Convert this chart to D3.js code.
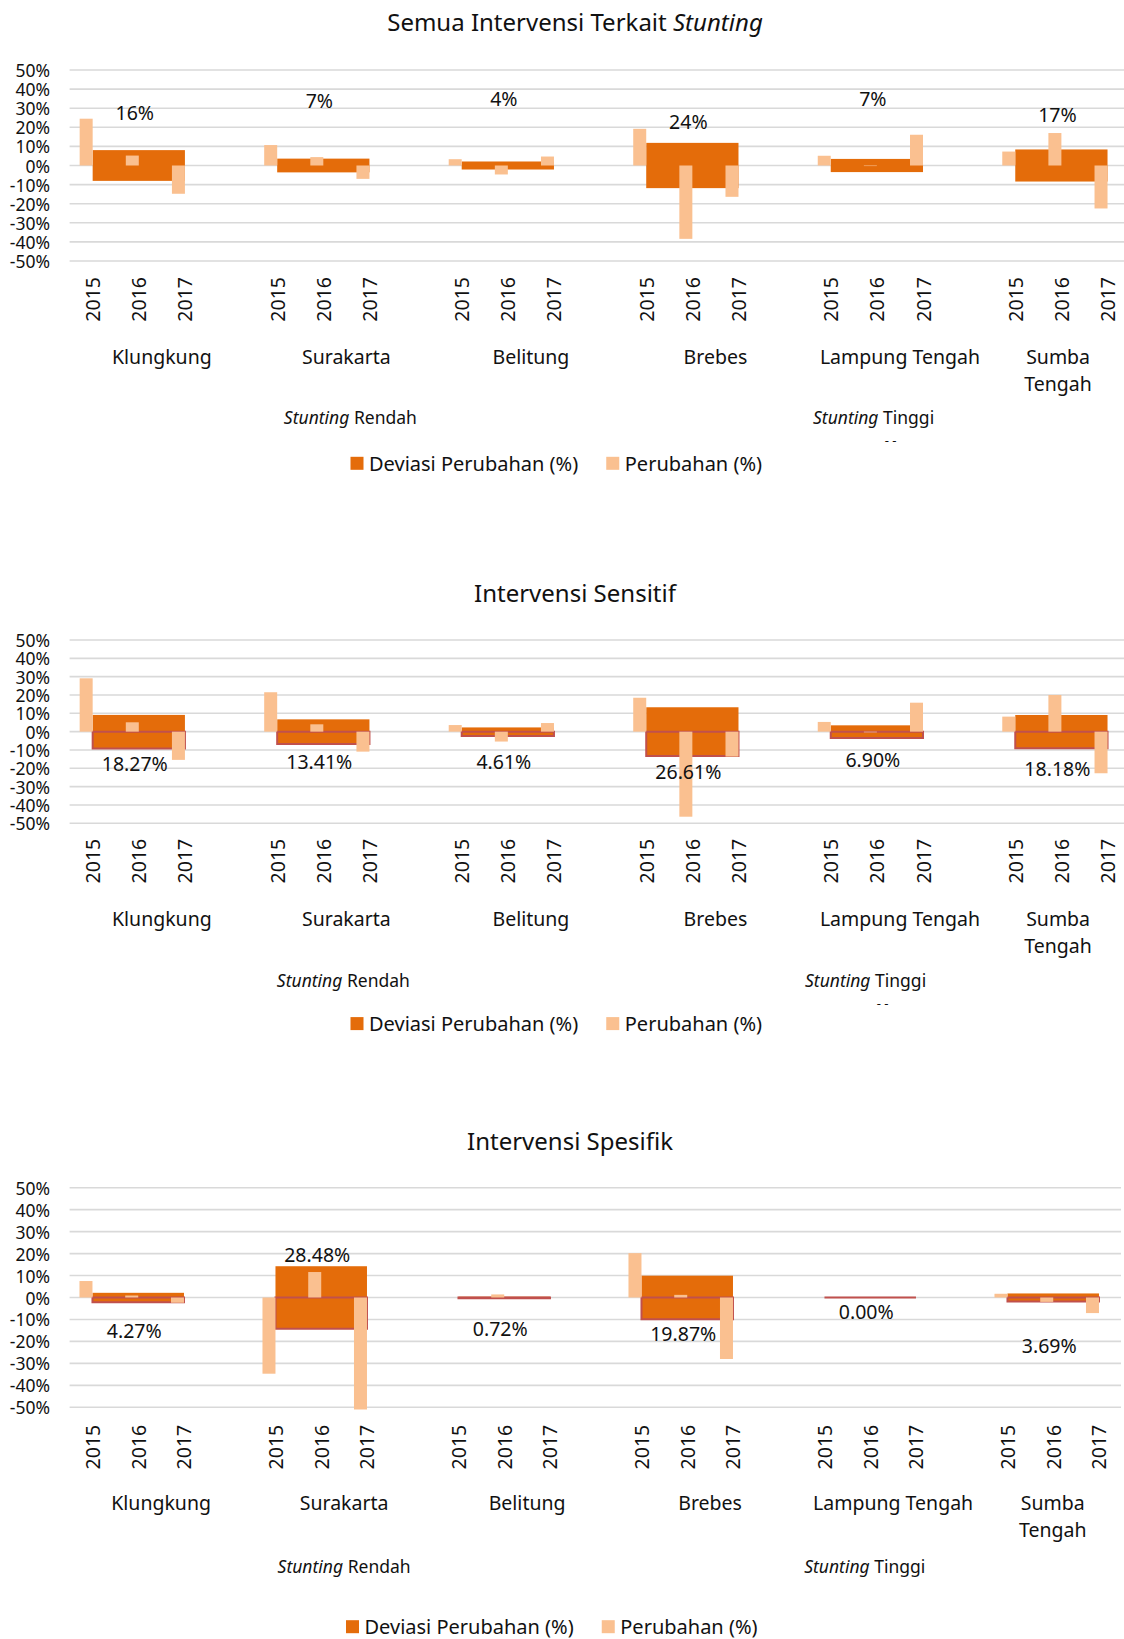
<!DOCTYPE html>
<html>
<head>
<meta charset="utf-8">
<script src="https://cdn.jsdelivr.net/npm/d3@7"></script>
<style>
body { margin: 0; background: #fff; }
svg text { font-family: "Segoe UI", "Noto Sans", sans-serif; fill: #111; }
</style>
</head>
<body>
<script>
// data (percent)
const years = ["2015", "2016", "2017"];
const cities = ["Klungkung", "Surakarta", "Belitung", "Brebes", "Lampung Tengah", "Sumba Tengah"];
const levels = ["Rendah", "Tinggi"];
const yTicks = [50, 40, 30, 20, 10, 0, -10, -20, -30, -40, -50];

const semuaPerubahan = [[24.5, 5.2, -14.8], [10.7, 4.4, -7.0], [3.3, -4.7, 4.7], [19.2, -38.4, -16.4], [5.1, -0.3, 16.1], [7.3, 17.0, -22.5]];
const semuaDeviasi = [16.1, 7.2, 4.2, 23.7, 6.9, 16.8];
const semuaLabelAt = [27.6, 34, 35, 23, 35, 26.5];

const sensitifPerubahan = [[29.1, 5.1, -15.4], [21.5, 4.0, -10.9], [3.6, -5.4, 4.7], [18.5, -46.4, -13.6], [5.3, -0.4, 15.8], [8.2, 20.0, -22.7]];
const sensitifDeviasi = [18.27, 13.41, 4.61, 26.61, 6.90, 18.18];
const sensitifLabelAt = [-17.2, -16.4, -16.4, -21.8, -15.1, -20];

const spesifikPerubahan = [[7.5, 0.9, -2.4], [-34.7, 11.6, -51.0], [0, 1.4, 0], [20.2, 1.2, -28.0], [0, 0, 0], [1.7, -2.0, -7.1]];
const spesifikDeviasi = [4.27, 28.48, 0.72, 19.87, 0.00, 3.69];
const spesifikLabelAt = [-15, 19.4, -13.9, -16.2, -6.4, -22];

const dark = "#E46C0A", pale = "#FAC090", border = "#C0504D", grid = "#D9D9D9";

const W = 1124, H = 1639;
const svg = d3.select("body").append("svg")
    .attr("width", W).attr("height", H)
    .attr("viewBox", "0 0 " + W + " " + H);
svg.append("rect").attr("width", W).attr("height", H).attr("fill", "#fff");

const charts = [
  {title: ["Semua Intervensi Terkait ", "Stunting"], perubahan: semuaPerubahan, deviasi: semuaDeviasi,
   labelAt: semuaLabelAt, fmt: d3.format(".0%"), top: 70, bottom: 261, slot: 46.13, right: 1124,
   titleX: 575, titleY: 21, yearGap: 16, groupY: 417, groupDx: [4, 0], legendX: 350.5, legendY: 463.3,
   outlined: false, dashes: true},
  {title: ["Intervensi Sensitif"], perubahan: sensitifPerubahan, deviasi: sensitifDeviasi,
   labelAt: sensitifLabelAt, fmt: d3.format(".2%"), top: 640, bottom: 823.3, slot: 46.13, right: 1124,
   titleX: 575, titleY: 592, yearGap: 15.5, groupY: 980, groupDx: [-3, -8], legendX: 350.5, legendY: 1023.6,
   outlined: true, dashes: true},
  {title: ["Intervensi Spesifik"], perubahan: spesifikPerubahan, deviasi: spesifikDeviasi,
   labelAt: spesifikLabelAt, fmt: d3.format(".2%"), top: 1187.7, bottom: 1407.3, slot: 45.75, right: 1121,
   titleX: 570, titleY: 1140, yearGap: 17.5, groupY: 1566, groupDx: [0, -5], legendX: 346, legendY: 1626.7,
   outlined: true, dashes: false}
];

const left = 69.6;
const paleW = 13;

charts.forEach(drawChart);

function drawChart(cfg) {
    const g = svg.append("g");

    // one slot per year, plus an empty slot after every city
    const slotKeys = cities.flatMap(c => years.map(y => c + "|" + y).concat([c + "|gap"]));
    const x = d3.scaleBand().domain(slotKeys).range([left, left + slotKeys.length * cfg.slot]);
    const cx = (c, y) => x(c + "|" + y) + x.bandwidth() / 2;
    const y = d3.scaleLinear().domain([-50, 50]).range([cfg.bottom, cfg.top]);

    // title
    const t = g.append("text")
        .attr("x", cfg.titleX).attr("y", cfg.titleY)
        .attr("text-anchor", "middle").attr("dominant-baseline", "central")
        .attr("font-size", 24);
    t.append("tspan").text(cfg.title[0]);
    if (cfg.title[1]) t.append("tspan").attr("font-style", "italic").text(cfg.title[1]);

    // grid + y axis
    g.selectAll(".grid").data(yTicks).join("line")
        .attr("x1", left).attr("x2", cfg.right)
        .attr("y1", d => y(d)).attr("y2", d => y(d))
        .attr("stroke", grid).attr("stroke-width", 1.6);
    g.selectAll(".ytick").data(yTicks).join("text")
        .attr("x", 50).attr("y", d => y(d))
        .attr("text-anchor", "end").attr("dominant-baseline", "central")
        .attr("font-size", 17.5)
        .text(d => d + "%");

    // deviation bars (wide, symmetric around 0)
    cities.forEach((c, i) => {
        const half = cfg.deviasi[i] / 2;
        const x0 = cx(c, "2015"), x1 = cx(c, "2017");
        if (!cfg.outlined) {
            g.append("rect")
                .attr("x", x0).attr("width", x1 - x0)
                .attr("y", y(half)).attr("height", y(-half) - y(half))
                .attr("fill", dark);
        } else {
            g.append("rect")
                .attr("x", x0).attr("width", x1 - x0)
                .attr("y", y(half)).attr("height", y(0) - y(half))
                .attr("fill", dark);
            const y0 = y(0), y1 = y(-half);
            g.append("path")
                .attr("d", "M" + x0 + "," + y0 + "H" + x1 + "V" + y1 + "H" + x0 + "Z")
                .attr("fill", dark).attr("stroke", border).attr("stroke-width", 2);
        }
    });

    // change bars
    cities.forEach((c, i) => {
        g.selectAll(null).data(cfg.perubahan[i]).join("rect")
            .attr("x", (d, j) => cx(c, years[j]) - paleW)
            .attr("width", paleW)
            .attr("y", d => y(Math.max(0, d)))
            .attr("height", d => Math.abs(y(d) - y(0)))
            .attr("fill", pale);
    });

    // data labels
    cities.forEach((c, i) => {
        g.append("text")
            .attr("x", cx(c, "2016") - 4).attr("y", y(cfg.labelAt[i]))
            .attr("text-anchor", "middle").attr("dominant-baseline", "central")
            .attr("font-size", 19.5)
            .text(cfg.fmt(cfg.deviasi[i] / 100));
    });

    // year labels
    cities.forEach(c => {
        years.forEach(yr => {
            const px = cx(c, yr), py = cfg.bottom + cfg.yearGap;
            g.append("text")
                .attr("transform", "translate(" + px + "," + py + ") rotate(-90)")
                .attr("text-anchor", "end").attr("dominant-baseline", "central")
                .attr("font-size", 19.5)
                .text(yr);
        });
    });

    // city labels, centred on the visible part of each city's slots
    cities.forEach((c, i) => {
        const a = x(c + "|2015"), b = Math.min(x(c + "|gap") + x.bandwidth(), cfg.right);
        const mid = (a + b) / 2;
        const txt = g.append("text")
            .attr("x", mid).attr("y", cfg.bottom + 95)
            .attr("text-anchor", "middle").attr("dominant-baseline", "central")
            .attr("font-size", 19.5)
            .text(c);
        if (txt.node().getComputedTextLength() > (b - a) * 0.9) {
            txt.text(null);
            c.split(" ").forEach((w, k) => {
                txt.append("tspan").attr("x", mid).attr("dy", k === 0 ? 0 : 27).text(w);
            });
        }
    });

    // level labels
    levels.forEach((lv, k) => {
        const a = x(cities[k * 3] + "|2015");
        const b = Math.min(x(cities[k * 3 + 2] + "|gap") + x.bandwidth(), cfg.right);
        const mid = (a + b) / 2 + cfg.groupDx[k];
        const txt = g.append("text")
            .attr("x", mid).attr("y", cfg.groupY)
            .attr("text-anchor", "middle").attr("dominant-baseline", "central")
            .attr("font-size", 17.5);
        txt.append("tspan").attr("font-style", "italic").text("Stunting");
        txt.append("tspan").text(" " + lv);
        if (k === 1 && cfg.dashes) {
            g.append("text")
                .attr("x", mid + 17).attr("y", cfg.groupY + 23)
                .attr("text-anchor", "middle").attr("dominant-baseline", "central")
                .attr("font-size", 13)
                .text("- -");
        }
    });

    // legend
    const lg = g.append("g");
    lg.append("rect").attr("x", cfg.legendX).attr("y", cfg.legendY - 6.5)
        .attr("width", 13).attr("height", 13).attr("fill", dark);
    const l1 = lg.append("text").attr("x", cfg.legendX + 18.5).attr("y", cfg.legendY)
        .attr("dominant-baseline", "central").attr("font-size", 20)
        .text("Deviasi Perubahan (%)");
    const px = cfg.legendX + 18.5 + l1.node().getComputedTextLength() + 28;
    lg.append("rect").attr("x", px).attr("y", cfg.legendY - 6.5)
        .attr("width", 13).attr("height", 13).attr("fill", pale);
    lg.append("text").attr("x", px + 18.5).attr("y", cfg.legendY)
        .attr("dominant-baseline", "central").attr("font-size", 20)
        .text("Perubahan (%)");
}
</script>
</body>
</html>
